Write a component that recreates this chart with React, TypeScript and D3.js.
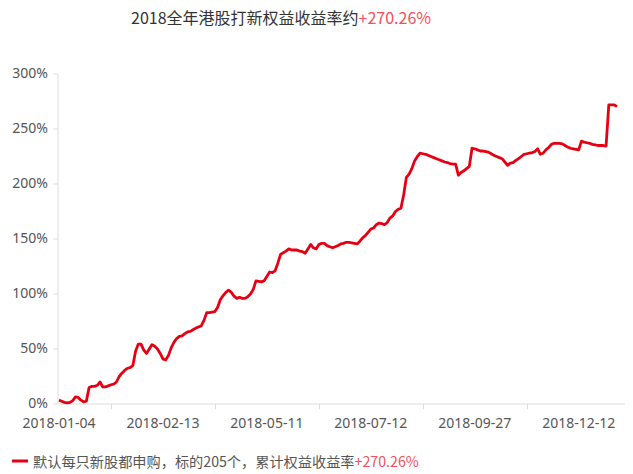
import React from "react";
import * as d3 from "d3";

const values: number[] = [
  3.5, 2.5, 1.5, 1, 1.5, 3, 6.5, 6, 3.5, 2,
  2.5, 15, 16, 16, 17, 20, 15.5, 15.5, 16.5, 17.5,
  18, 20, 25, 28, 30.5, 32.5, 33, 35, 48, 54.5,
  54.5, 49, 46, 50, 54, 52.5, 50, 46, 41, 40,
  44, 51, 56, 59.5, 61.5, 62, 64, 65.5, 66, 67.5,
  69, 70, 71, 76, 83, 83, 83.5, 84, 88, 95,
  98.5, 101.5, 103.5, 101.5, 98, 96, 97, 96, 96, 97.5,
  100, 104, 112, 111.5, 111, 112, 116, 120, 119.5, 121,
  128, 136, 137.5, 139, 141, 140, 140, 140, 139, 138.5,
  137, 141, 145, 142, 141, 145, 146, 146, 144, 143,
  142, 143, 144, 145.5, 146, 147, 147, 146.5, 146, 145.5,
  148, 151, 153, 156, 159, 160, 163, 164.5, 164, 163,
  165, 169, 171, 175, 177, 178, 190, 206, 209, 214,
  221, 225, 228, 227.5, 227, 226, 225, 224, 223, 222,
  221, 220, 219.5, 218.5, 218, 218, 208, 210.5, 212, 214,
  216, 232.5, 232, 231, 230, 230, 229.5, 229, 227.5, 226,
  225, 224, 223, 220, 217, 219, 219.5, 221.5, 223, 225,
  227, 227.5, 228, 228.5, 229.5, 232, 227, 228, 231, 233,
  236, 237, 237, 237, 236.5, 235, 233.5, 232.5, 232, 231.5,
  231, 239, 238, 237.5, 237, 236, 235.5, 235, 235, 235,
  234.5, 272, 272, 272, 270.26,
];

const xLabels: string[] = ["2018-01-04", "2018-02-13", "2018-05-11", "2018-07-12", "2018-09-27", "2018-12-12"];
const xLabelIndex: number[] = [0, 38, 76, 114, 152, 190];
const xTickIndex: number[] = [19, 57, 95, 133, 171];
const yTicks: number[] = [0, 50, 100, 150, 200, 250, 300];

const titleMain = "2018全年港股打新权益收益率约";
const titleValue = "+270.26%";
const legendMain = "默认每只新股都申购，标的205个，累计权益收益率";
const legendValue = "+270.26%";

const FONT = "'Microsoft YaHei', 'Noto Sans CJK SC', 'Noto Sans', sans-serif";
const NUMFONT = "'Noto Sans', 'Noto Sans CJK SC', sans-serif";
const RED = "#e60012";
const PINK = "#f2505d";

export default function App() {
  const W = 633, H = 474;
  const x = d3.scaleLinear().domain([0, values.length - 1]).range([59, 617]);
  const y = d3.scaleLinear().domain([0, 300]).range([404, 74]);
  const line = d3.line<number>().x((_, i) => x(i)).y((d) => y(d)).curve(d3.curveLinear);
  const axisRight = 625;

  return (
    <svg width={W} height={H} style={{ position: "absolute", left: 0, top: 0, background: "#fff" }}>
      <text x={281} y={24} textAnchor="middle" fontFamily={FONT} fontSize={16} fill="#333">
        {titleMain}
        <tspan fill={PINK}>{titleValue}</tspan>
      </text>

      {/* y axis */}
      <line x1={x(0) - 1} x2={x(0) - 1} y1={y(300)} y2={y(0)} stroke="#ddd" strokeWidth={1} />
      {yTicks.map((t) => (
        <g key={t}>
          <line x1={53} x2={58} y1={y(t)} y2={y(t)} stroke="#ddd" />
          <text x={48} y={y(t)} dy="0.3em" textAnchor="end" fontFamily={NUMFONT} fontSize={14} fill="#555">
            {t + "%"}
          </text>
        </g>
      ))}

      {/* x axis */}
      <line x1={x(0) - 1} x2={axisRight} y1={y(0)} y2={y(0)} stroke="#ddd" strokeWidth={1} />
      {xTickIndex.map((i) => (
        <line key={i} x1={Math.round(x(i)) + 0.5} x2={Math.round(x(i)) + 0.5} y1={y(0)} y2={y(0) + 5} stroke="#ddd" />
      ))}
      {xLabels.map((l, k) => (
        <text key={l} x={x(xLabelIndex[k])} y={427.5} textAnchor="middle" fontFamily={NUMFONT} fontSize={14} fill="#555">
          {l}
        </text>
      ))}

      <path d={line(values) || ""} fill="none" stroke={RED} strokeWidth={2.8} strokeLinejoin="round" />

      {/* legend */}
      <line x1={12} x2={28} y1={461} y2={461} stroke={RED} strokeWidth={3} />
      <text x={33} y={467} fontFamily={FONT} fontSize={14.2} fill="#555">
        {legendMain}
        <tspan fill={PINK}>{legendValue}</tspan>
      </text>
    </svg>
  );
}
